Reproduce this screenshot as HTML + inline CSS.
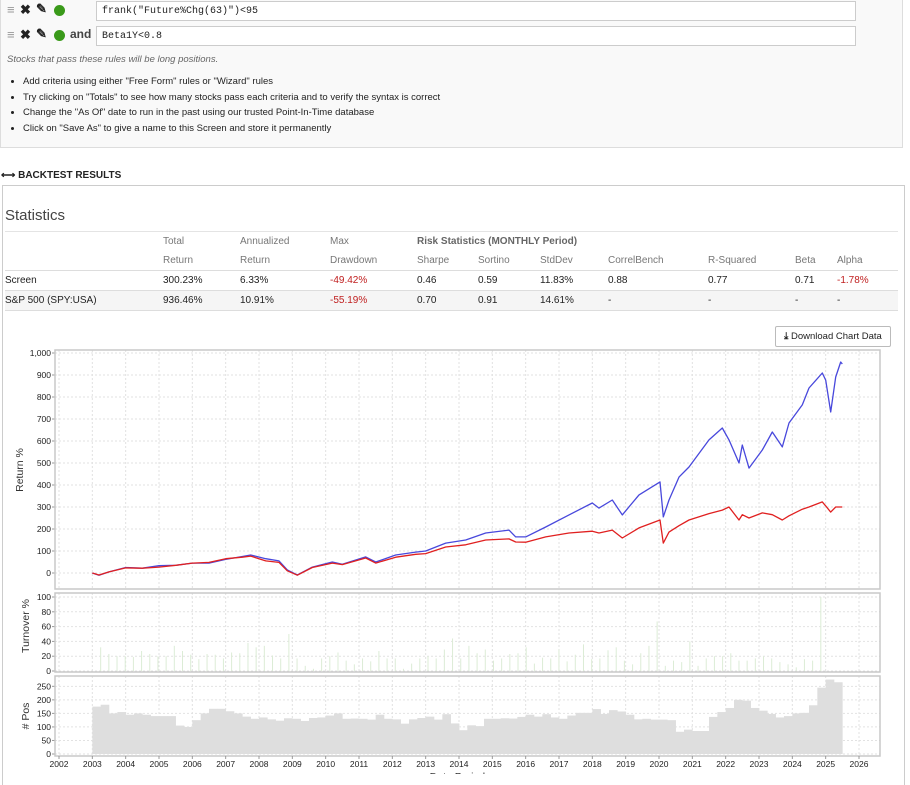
<!DOCTYPE html>
<html><head><meta charset="utf-8">
<style>
body{margin:0;width:910px;height:774px;overflow:hidden;background:#fff;font-family:"Liberation Sans",sans-serif;position:relative;color:#222}
.abs{position:absolute}
.topbox{left:0;top:-1px;width:903px;height:149px;background:#f9f9f9;border:1px solid #ddd;box-sizing:border-box}
.inp{position:absolute;left:95px;width:760px;height:20px;border:1px solid #ccc;background:#fff;font-family:"Liberation Mono",monospace;font-size:10px;line-height:20px;padding-left:5px;box-sizing:border-box}
.ico{position:absolute;font-size:13px;font-weight:bold}
.dot{position:absolute;width:11px;height:11px;border-radius:50%;background:#3a9a1a}
.note{left:6px;top:54px;font-size:9.5px;font-style:italic;color:#666}
ul{position:absolute;left:8px;top:74px;margin:0;padding:0 0 0 14px;font-size:9.5px;line-height:15.5px;color:#222}
.sect{left:2px;top:185px;width:903px;height:600px;border-left:1px solid #ccc;border-right:1px solid #ccc;box-sizing:border-box}
table{position:absolute;left:5px;top:231px;width:893px;border-collapse:collapse;font-size:10px}
td{height:19px;padding:0;white-space:nowrap}
.hd td{color:#777}
.neg{color:#c02020}
.btn{left:775px;top:326px;width:114px;height:19px;border:1px solid #bbb;border-radius:2px;font-size:9.5px;line-height:19px;text-align:center;background:#fff}
</style></head><body>
<div class="abs topbox">
 <span class="ico" style="left:6px;top:2px;color:#999">≡</span>
 <span class="ico" style="left:19px;top:2px">✖</span>
 <span class="ico" style="left:35px;top:1px">✎</span>
 <span class="dot" style="left:53px;top:5px"></span>
 <div class="inp" style="top:1px">frank("Future%Chg(63)")&lt;95</div>
 <span class="ico" style="left:6px;top:27px;color:#999">≡</span>
 <span class="ico" style="left:19px;top:27px">✖</span>
 <span class="ico" style="left:35px;top:26px">✎</span>
 <span class="dot" style="left:53px;top:30px"></span>
 <span class="abs" style="left:69px;top:27px;font-size:12px;font-weight:bold;color:#444">and</span>
 <div class="inp" style="top:26px">Beta1Y&lt;0.8</div>
 <div class="abs note">Stocks that pass these rules will be long positions.</div>
 <ul>
  <li>Add criteria using either "Free Form" rules or "Wizard" rules</li>
  <li>Try clicking on "Totals" to see how many stocks pass each criteria and to verify the syntax is correct</li>
  <li>Change the "As Of" date to run in the past using our trusted Point-In-Time database</li>
  <li>Click on "Save As" to give a name to this Screen and store it permanently</li>
 </ul>
</div>
<div class="abs" style="left:1px;top:170px;font-size:10px;font-weight:bold">⟷ BACKTEST RESULTS</div>
<div class="abs sect" style="border-top:1px solid #ccc"></div>
<div class="abs" style="left:5px;top:207px;font-size:15px;color:#444">Statistics</div>
<table>
<tr class="hd" style="border-top:1px solid #e4e4e4"><td style="width:158px"></td><td style="width:77px">Total</td><td style="width:90px">Annualized</td><td style="width:87px">Max</td><td colspan="4" style="font-weight:bold;color:#666">Risk Statistics (MONTHLY Period)</td><td></td><td></td><td></td></tr>
<tr class="hd" style="border-bottom:1px solid #ddd"><td></td><td>Return</td><td>Return</td><td>Drawdown</td><td style="width:61px">Sharpe</td><td style="width:62px">Sortino</td><td style="width:68px">StdDev</td><td style="width:100px">CorrelBench</td><td style="width:87px">R-Squared</td><td style="width:42px">Beta</td><td>Alpha</td></tr>
<tr style="border-bottom:1px solid #ddd"><td>Screen</td><td>300.23%</td><td>6.33%</td><td class="neg">-49.42%</td><td>0.46</td><td>0.59</td><td>11.83%</td><td>0.88</td><td>0.77</td><td>0.71</td><td class="neg">-1.78%</td></tr>
<tr style="border-bottom:1px solid #ddd;background:#f5f5f5"><td>S&amp;P 500 (SPY:USA)</td><td>936.46%</td><td>10.91%</td><td class="neg">-55.19%</td><td>0.70</td><td>0.91</td><td>14.61%</td><td>-</td><td>-</td><td>-</td><td>-</td></tr>
</table>
<div class="abs btn"><b>⤓</b> Download Chart Data</div>
<svg class="abs" style="left:0;top:0" width="910" height="774" id="chart"></svg>
<script>
const dates=[2003.0,2003.2,2003.5,2004.0,2004.5,2005.0,2005.5,2006.0,2006.5,2007.0,2007.5,2007.75,2008.2,2008.6,2008.85,2009.15,2009.6,2010.2,2010.5,2011.2,2011.5,2012.1,2012.7,2013.0,2013.6,2014.2,2014.8,2015.5,2015.7,2016.0,2016.6,2017.3,2018.0,2018.2,2018.6,2018.9,2019.4,2020.03,2020.13,2020.3,2020.6,2020.9,2021.5,2021.9,2022.1,2022.4,2022.5,2022.7,2023.1,2023.4,2023.7,2023.9,2024.3,2024.5,2024.9,2025.0,2025.15,2025.3,2025.45,2025.5];
const spyReturn=[0,-10,5,25,22,33,35,45,45,62,75,82,65,55,14,-9,27,50,40,73,50,82,95,100,136,150,182,195,164,164,209,264,318,295,332,264,355,414,255,332,436,482,605,659,605,500,582,477,559,641,573,682,764,841,909,877,732,891,959,950];
const screenReturn=[0,-9,5,23,22,27,35,45,48,65,72,77,55,48,10,-10,25,45,38,68,45,72,85,88,118,128,150,155,141,140,164,182,190,182,195,159,205,241,136,186,215,241,270,286,300,241,265,250,273,265,241,260,290,300,323,305,277,300,300,300];
const turnover=[32,23,20,20,19,27,23,20,20,34,27,22,16,23,22,17,25,24,38,32,34,21,17,50,17,7,3,17,20,25,14,9,17,13,27,17,17,3,10,17,20,17,29,44,17,34,24,29,14,17,23,24,32,10,18,17,29,13,22,36,16,17,28,32,14,9,24,34,67,7,14,12,40,7,17,20,20,24,14,14,17,20,17,12,9,5,16,14,100];
const positions=[175,182,150,155,145,150,145,140,140,140,105,100,125,150,167,167,158,150,138,130,135,128,123,132,130,122,133,135,142,150,130,131,130,127,145,130,128,112,128,133,138,127,147,113,88,106,103,130,130,132,131,137,145,138,147,135,130,142,152,152,166,148,162,157,145,128,130,127,127,125,82,90,85,85,137,155,170,200,197,170,160,148,135,140,150,152,180,245,275,265];
const years=[2002,2003,2004,2005,2006,2007,2008,2009,2010,2011,2012,2013,2014,2015,2016,2017,2018,2019,2020,2021,2022,2023,2024,2025,2026];
const retTicks=[0,100,200,300,400,500,600,700,800,900,1000];
const toTicks=[0,20,40,60,80,100];
const posTicks=[0,50,100,150,200,250];

const NS='http://www.w3.org/2000/svg';
const svg=document.getElementById('chart');
const L=55,R=880;
const X=y=>59+(y-2002)*(800/24);
const Yr=v=>573-v*0.22, Yt=v=>671-v*0.74, Yp=v=>754-v*0.2707;
function mk(tag,a,parent){const e=document.createElementNS(NS,tag);for(const k in a)e.setAttribute(k,a[k]);(parent||svg).appendChild(e);return e;}
const panels=[[350,589,Yr,retTicks,'Return %',470,'return'],[593,672,Yt,toTicks,'Turnover %',626,'turnover'],[676,756,Yp,posTicks,'# Pos',716,'positions']];
panels.forEach(p=>{
  const [t,b,f,ticks,title,ty,nm]=p;
  const g=mk('g',{});
  
  
  mk('rect',{x:L,y:t,width:R-L,height:b-t,fill:'#fff'},g);
  years.forEach(yr=>{const l=mk('line',{x1:X(yr),x2:X(yr),y1:t,y2:b,stroke:'#e2e2e2','stroke-dasharray':'2,2'},g);
    
    });
  ticks.forEach(v=>{const yy=f(v);
    const l=mk('line',{x1:L,x2:R,y1:yy,y2:yy,stroke:'#e2e2e2','stroke-dasharray':'2,2'},g);
    
    
    mk('line',{x1:L-3,x2:L,y1:yy,y2:yy,stroke:'#999'},g);
    const tx=mk('text',{x:L-4,y:yy+3,'font-size':'8.5','text-anchor':'end',fill:'#222'},g);
    tx.textContent=v===1000?'1,000':v;
    
    });
  const tt=mk('text',{x:0,y:0,'font-size':'10.5','text-anchor':'middle',fill:'#333',transform:`translate(${nm==='return'?23:29},${ty}) rotate(-90)`},g);
  tt.textContent=title;
  
  
});
turnover.forEach((v,i)=>{const d=2003.25+i*0.2455;
  const r=mk('rect',{x:X(d)-0.5,y:Yt(v),width:1,height:Yt(0)-Yt(v),fill:'#dcecd6'});
  
  });
positions.forEach((v,i)=>{const d0=2003+i*0.25;
  const r=mk('rect',{x:X(d0),y:Yp(v),width:X(d0+0.25)-X(d0)+0.3,height:Yp(0)-Yp(v),fill:'#dedede'});
  
  });
function line(vals,color,name){const pts=vals.map((v,i)=>X(dates[i]).toFixed(1)+','+Yr(v).toFixed(1)).join(' ');
  const pl=mk('polyline',{points:pts,fill:'none',stroke:color,'stroke-width':1.3,'stroke-linejoin':'round'});
  
  }
line(spyReturn,'#4848dc','spy-return-line');
line(screenReturn,'#e02020','screen-return-line');
panels.forEach(p=>{mk('rect',{x:L,y:p[0],width:R-L,height:p[1]-p[0],fill:'none',stroke:'#c8c8c8','stroke-width':1.5});});
years.forEach(yr=>{mk('line',{x1:X(yr),x2:X(yr),y1:756,y2:759,stroke:'#999'});
  const t=mk('text',{x:X(yr),y:767,'font-size':'8.5','text-anchor':'middle',fill:'#222'});
  t.textContent=yr;
  
  });
const xt=mk('text',{x:460,y:780,'font-size':'10.5','text-anchor':'middle',fill:'#333'});
xt.textContent='Date Periods';


</script>
</body></html>
